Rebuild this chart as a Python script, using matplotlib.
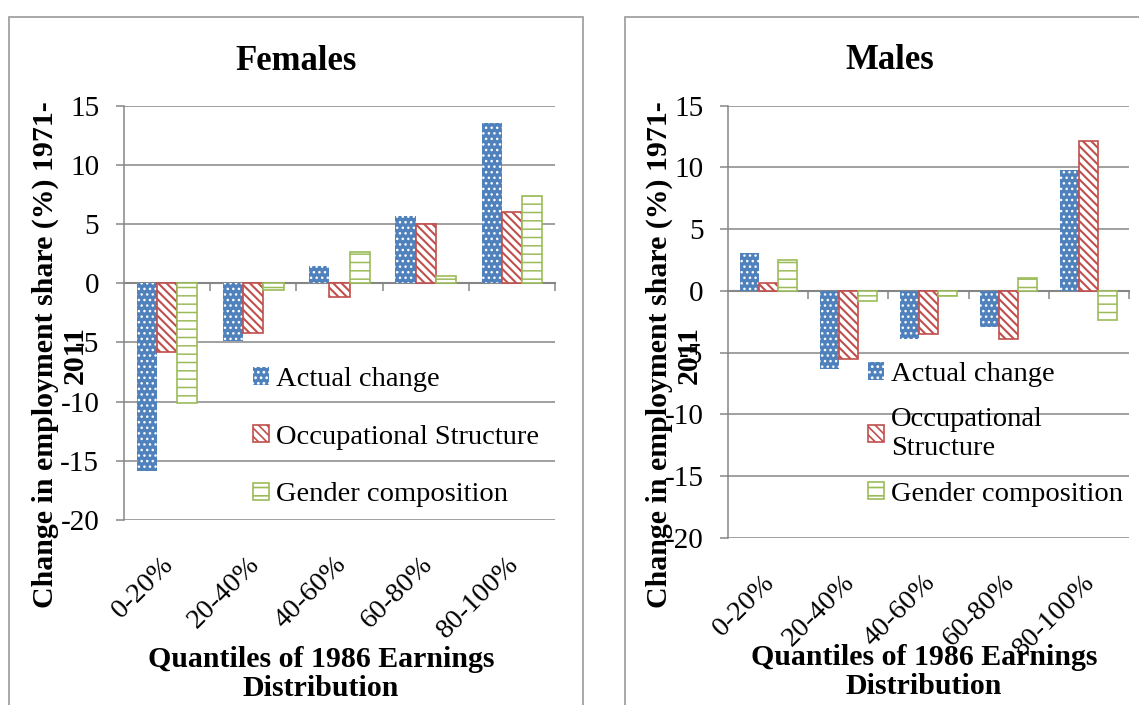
import numpy as np
import matplotlib
matplotlib.use('Agg')
import matplotlib.pyplot as plt
from matplotlib.patches import Rectangle
from matplotlib.transforms import ScaledTranslation

quantiles = ['0-20%', '20-40%', '40-60%', '60-80%', '80-100%']
series_f = ['Actual change', 'Occupational Structure', 'Gender composition']
series_m = ['Actual change', 'Occupational\nStructure', 'Gender composition']

fem_actual = [-15.9, -4.9, 1.5, 5.7, 13.5]
fem_occup = [-5.8, -4.2, -1.2, 5.0, 6.0]
fem_gender = [-10.1, -0.6, 2.6, 0.6, 7.4]

male_actual = [3.1, -6.3, -3.9, -2.9, 9.8]
male_occup = [0.6, -5.5, -3.5, -3.9, 12.1]
male_gender = [2.5, -0.8, -0.4, 1.0, -2.4]

ylab = 'Change in employment share (%) 1971-\n2011'
xlab = 'Quantiles of 1986 Earnings\nDistribution'

plt.rcParams['font.family'] = ['Liberation Serif', 'DejaVu Serif']
plt.rcParams['axes.unicode_minus'] = False
plt.rcParams['hatch.linewidth'] = 1.2

BLUE, RED, GREEN = '#4F81BD', '#C0504D', '#9BBB59'
GRID = '#868686'
W, H = 1139, 705

fig = plt.figure(figsize=(W / 100, H / 100), dpi=100)


def px_rect(l, t, r, b):
    return [l / W, 1 - b / H, (r - l) / W, (b - t) / H]


def to_ax(box, px, py):
    l, t, r, b = box
    return (px - l) / (r - l), (b - py) / (b - t)


def hatch_lw(bars, lw):
    for p in bars:
        if hasattr(p, 'set_hatch_linewidth'):
            p.set_hatch_linewidth(lw)


def panel(box, actual, occup, gender, labels, title, title_px, ylab_px, xlab_px, leg_px):
    ax = fig.add_axes(px_rect(*box))
    x = np.arange(len(quantiles))
    w = 0.235
    with plt.rc_context({'hatch.color': 'white'}):
        b1 = ax.bar(x - w, actual, w, color=BLUE, hatch='...', linewidth=0,
                    label=labels[0], zorder=3)
    b2 = ax.bar(x, occup, w, facecolor='white', edgecolor=RED, hatch='\\\\\\\\',
                linewidth=1.2, label=labels[1], zorder=3)
    b3 = ax.bar(x + w, gender, w, facecolor='white', edgecolor=GREEN, hatch='--',
                linewidth=1.2, label=labels[2], zorder=3)
    hatch_lw(b1, 1.0)
    hatch_lw(b2, 1.5)
    hatch_lw(b3, 1.1)

    ax.set_xlim(-0.5, len(quantiles) - 0.5)
    ax.set_ylim(-20, 15)
    ax.set_yticks(range(-20, 16, 5))
    ax.yaxis.grid(True, color=GRID, linewidth=1.1)
    ax.set_axisbelow(True)
    for s in ['top', 'right', 'bottom']:
        ax.spines[s].set_visible(False)
    ax.spines['left'].set_color(GRID)
    ax.spines['left'].set_linewidth(1.1)
    ax.tick_params(axis='y', direction='out', length=5.8, width=1.1, color=GRID,
                   pad=12, labelsize=21)

    ax.set_xticks(x)
    ax.set_xticklabels(quantiles, rotation=45, ha='right', va='top',
                       rotation_mode='anchor', fontsize=20.5)
    ax.tick_params(axis='x', length=0, pad=23)
    shift = ScaledTranslation(-6 / 100, 0, fig.dpi_scale_trans)
    for lab in ax.get_xticklabels():
        lab.set_transform(lab.get_transform() + shift)

    # axis line at zero with ticks between categories
    zero = ax.secondary_xaxis(0, transform=ax.transData)
    zero.set_xticks(x + 0.5, labels=[])
    zero.tick_params(direction='out', length=5.5, width=1.1, color=GRID)
    zero.spines['bottom'].set_color(GRID)
    zero.spines['bottom'].set_linewidth(1.5)

    ax.set_ylabel(ylab, fontsize=21.5, fontweight='bold', linespacing=1.12, va='center')
    ax.yaxis.set_label_coords(*to_ax(box, *ylab_px))
    ax.set_xlabel(xlab, fontsize=21.5, fontweight='bold', linespacing=1.12, va='center')
    ax.xaxis.set_label_coords(*to_ax(box, *xlab_px))

    tx, ty = to_ax(box, *title_px)
    ax.text(tx, ty, title, transform=ax.transAxes, ha='center', va='center',
            fontsize=25, fontweight='bold')

    ax.legend(handles=[b1, b2, b3], loc='upper left',
              bbox_to_anchor=(leg_px[0] / W, 1 - leg_px[1] / H),
              bbox_transform=fig.transFigure, frameon=False, fontsize=20.5,
              handlelength=0.55, handleheight=0.55, handletextpad=0.25,
              labelspacing=leg_px[2], borderpad=0, borderaxespad=0)
    return ax


panel((124, 105.7, 555, 520), fem_actual, fem_occup, fem_gender, series_f, 'Females',
      (296, 61), (60, 355), (321, 674), (253, 367, 1.15))
panel((728.3, 105.7, 1128.7, 537.7), male_actual, male_occup, male_gender, series_m, 'Males',
      (890, 61), (674, 355), (924, 672), (868, 362, 0.72))

# chart frames
for x0, x1 in [(9, 583), (625, 1180)]:
    fig.add_artist(Rectangle((x0 / W, -0.1), (x1 - x0) / W, 1.1 - 17 / H,
                             transform=fig.transFigure, fill=False,
                             edgecolor='#999999', linewidth=1.2))

fig.savefig('out.png', dpi=100)
